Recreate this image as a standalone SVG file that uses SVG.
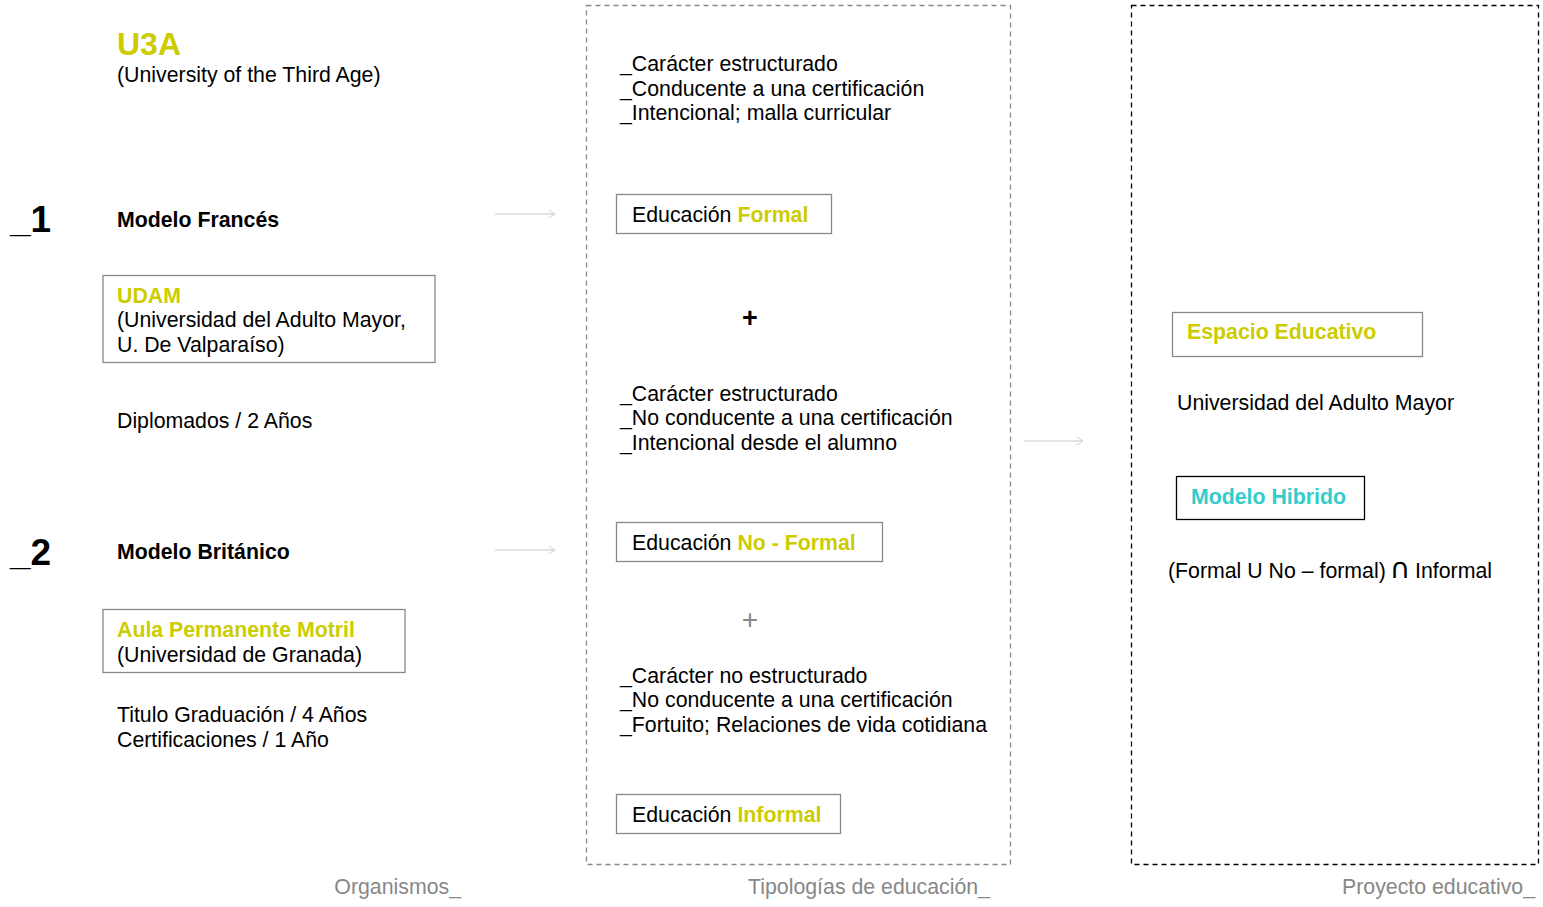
<svg xmlns="http://www.w3.org/2000/svg" width="1543" height="907" viewBox="0 0 1543 907">
<style>
text{font-family:"Liberation Sans",Arial,sans-serif;font-size:21.3px;fill:#000}
.y{fill:#cccc00;font-weight:bold}
.c{fill:#33cccc;font-weight:bold}
.b{font-weight:bold}
.g{fill:#888}
.cap{font-family:"DejaVu Sans",sans-serif;font-size:28px}
.box{fill:#fff;stroke:#888;stroke-width:1.3}
.conn{stroke:#c8c8c8;stroke-width:1;fill:none}
</style>
<defs>
<marker id="ah" viewBox="0 0 10 10" refX="9" refY="5" markerWidth="8" markerHeight="14" markerUnits="userSpaceOnUse" orient="auto"><path d="M1,0 L9,5 L1,10" fill="none" stroke="#c8c8c8" stroke-width="1"/></marker>
</defs>
<rect width="1543" height="907" fill="#fff"/>
<g id="frames">
<rect x="586.5" y="5.5" width="424" height="859" fill="none" stroke="#888" stroke-width="1.3" stroke-dasharray="5,4"/>
<rect x="1131.5" y="5.5" width="407" height="859" fill="none" stroke="#000" stroke-width="1.3" stroke-dasharray="5,4"/>
</g>
<g id="connectors">
<line class="conn" x1="495" y1="214" x2="555" y2="214" marker-end="url(#ah)"/>
<line class="conn" x1="495" y1="550" x2="555" y2="550" marker-end="url(#ah)"/>
<line class="conn" x1="1024" y1="441" x2="1083" y2="441" marker-end="url(#ah)"/>
</g>
<g id="u3a">
<text x="117" y="55" class="y" style="font-size:32px">U3A</text>
<text x="117" y="82">(University of the Third Age)</text>
</g>
<g id="modelo1">
<text x="10" y="232" class="b" style="font-size:37px">_1</text>
<text x="117" y="227" class="b">Modelo Francés</text>
</g>
<g id="udam">
<rect class="box" x="103" y="275.5" width="332" height="87"/>
<text x="117" y="303" class="y">UDAM</text>
<text x="117" y="327">(Universidad del Adulto Mayor,</text>
<text x="117" y="352">U. De Valparaíso)</text>
</g>
<g id="diplomados">
<text x="117" y="428">Diplomados / 2 Años</text>
</g>
<g id="modelo2">
<text x="10" y="565" class="b" style="font-size:37px">_2</text>
<text x="117" y="559" class="b">Modelo Británico</text>
</g>
<g id="aula">
<rect class="box" x="103" y="609.5" width="302" height="63"/>
<text x="117" y="637" class="y">Aula Permanente Motril</text>
<text x="117" y="662">(Universidad de Granada)</text>
</g>
<g id="titulo">
<text x="117" y="722">Titulo Graduación / 4 Años</text>
<text x="117" y="747">Certificaciones / 1 Año</text>
</g>
<g id="formal-desc">
<text x="620" y="71">_Carácter estructurado</text>
<text x="620" y="96">_Conducente a una certificación</text>
<text x="620" y="120">_Intencional; malla curricular</text>
</g>
<g id="formal">
<rect class="box" x="616.5" y="194.5" width="215" height="39"/>
<text x="632" y="222">Educación <tspan class="y">Formal</tspan></text>
</g>
<g id="plus1"><text x="750" y="327" text-anchor="middle" class="b" style="font-size:27px">+</text></g>
<g id="noformal-desc">
<text x="620" y="401">_Carácter estructurado</text>
<text x="620" y="425">_No conducente a una certificación</text>
<text x="620" y="450">_Intencional desde el alumno</text>
</g>
<g id="noformal">
<rect class="box" x="616.5" y="522.5" width="266" height="39"/>
<text x="632" y="550">Educación <tspan class="y">No - Formal</tspan></text>
</g>
<g id="plus2"><text x="750" y="629" text-anchor="middle" class="g" style="font-size:28px">+</text></g>
<g id="informal-desc">
<text x="620" y="683">_Carácter no estructurado</text>
<text x="620" y="707">_No conducente a una certificación</text>
<text x="620" y="732">_Fortuito; Relaciones de vida cotidiana</text>
</g>
<g id="informal">
<rect class="box" x="616.5" y="794.5" width="224" height="39"/>
<text x="632" y="822">Educación <tspan class="y">Informal</tspan></text>
</g>
<g id="espacio">
<rect class="box" x="1172.5" y="312.5" width="250" height="44"/>
<text x="1187" y="339" class="y">Espacio Educativo</text>
</g>
<g id="uam"><text x="1177" y="410">Universidad del Adulto Mayor</text></g>
<g id="hibrido">
<rect x="1176.5" y="476.5" width="188" height="43" fill="#fff" stroke="#000" stroke-width="1.3"/>
<text x="1191" y="504" class="c">Modelo Hibrido</text>
</g>
<g id="formula"><text x="1168" y="578">(Formal U No – formal) <tspan class="cap" dx="-2">∩</tspan><tspan dx="-1"> Informal</tspan></text></g>
<g id="labels">
<text x="461" y="894" text-anchor="end" class="g">Organismos_</text>
<text x="990" y="894" text-anchor="end" class="g">Tipologías de educación_</text>
<text x="1535" y="894" text-anchor="end" class="g">Proyecto educativo_</text>
</g>
</svg>
